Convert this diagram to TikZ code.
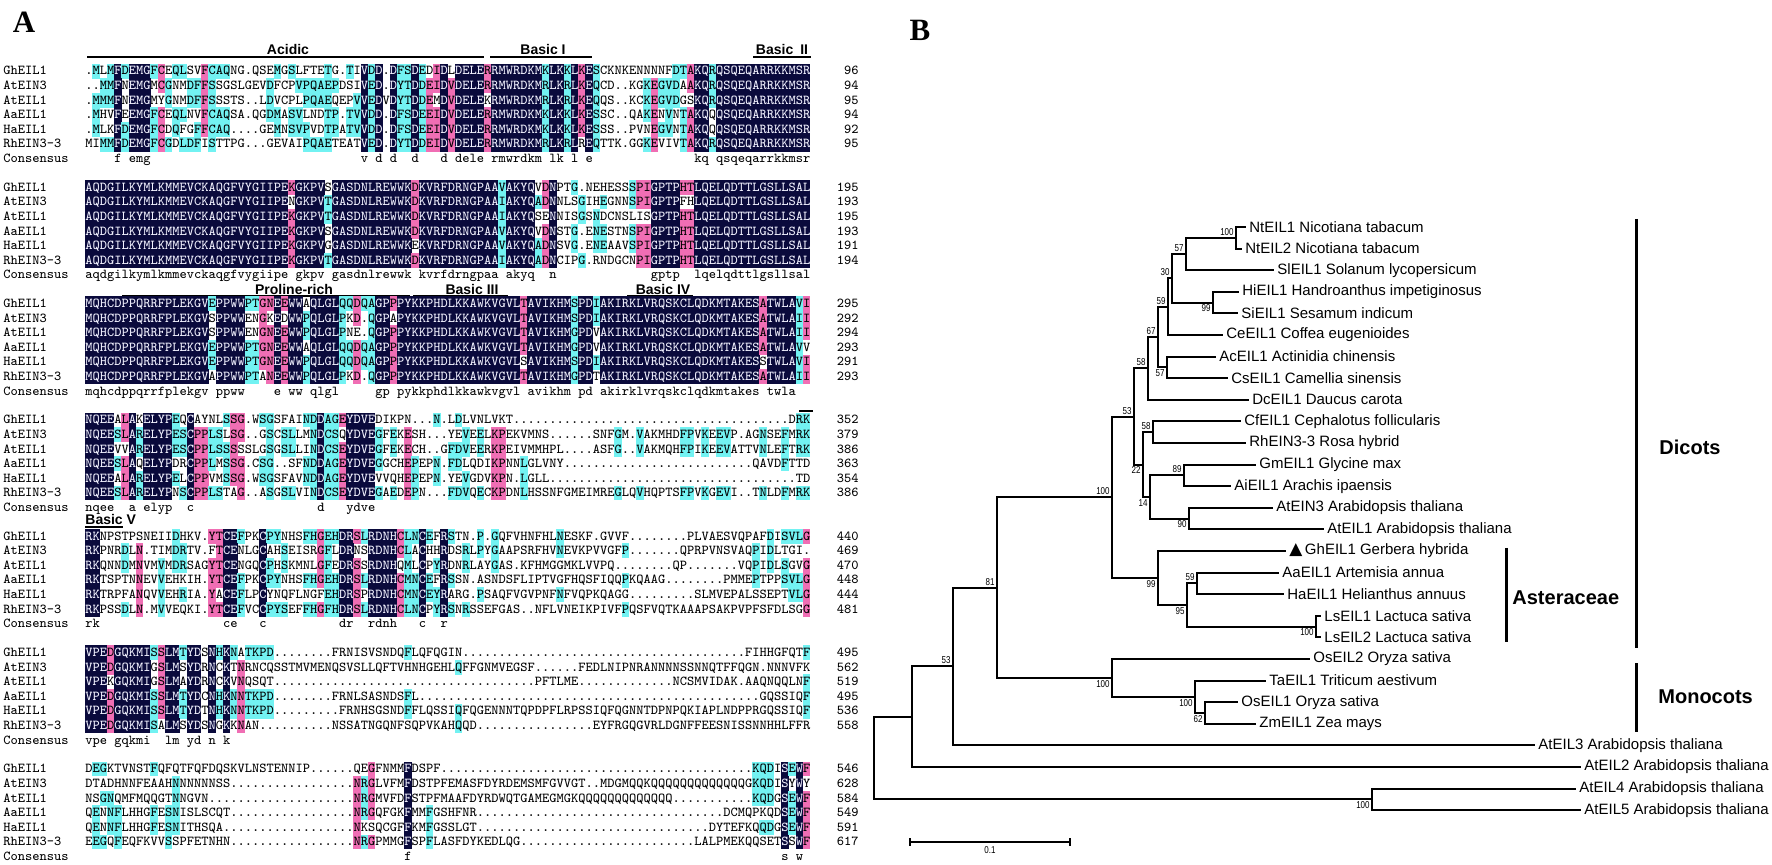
\documentclass[tikz,border=0pt]{standalone}
\usepackage{fontspec}
\setmainfont{Liberation Sans}
\newfontfamily\narrowfont{Liberation Sans}[FakeStretch=0.8]
\newfontfamily\serifbold{Liberation Serif}
\newfontfamily\symfont{DejaVu Sans}
\usetikzlibrary{calc}

\definecolor{alnnavy}{HTML}{0A0A3C}
\definecolor{alnpink}{HTML}{F06EB4}
\definecolor{alncyan}{HTML}{72F2F2}
\definecolor{alnlight}{HTML}{F2F2FF}

% size the typewriter face so that one residue is exactly one column wide
\newlength\alnw
\AtBeginDocument{%
  \settowidth\alnw{\ttfamily\fontsize{6.905}{7}\selectfont MMMMMMMMMM}%
  \pgfmathsetmacro\alnsize{6.905*36.25/\alnw}%
}

\tikzset{
  alnrow/.style={anchor=base west, inner sep=0pt, font=\ttfamily\fontsize{\alnsize}{7}\selectfont},
  alnnum/.style={anchor=base east, inner sep=0pt, font=\ttfamily\fontsize{\alnsize}{7}\selectfont},
  domlabel/.style={inner sep=0pt, font=\bfseries\fontsize{7}{8}\selectfont},
  dombar/.style={line width=0.75pt},
  branch/.style={line width=1pt, line cap=rect},
  tiplabel/.style={anchor=west, inner xsep=2pt, inner ysep=1pt, font=\fontsize{7.5}{9}\selectfont},
  bootup/.style={anchor=south east, inner sep=1pt, font=\narrowfont\fontsize{5}{5}\selectfont},
  bootdown/.style={anchor=north east, inner sep=1pt, font=\narrowfont\fontsize{5}{5}\selectfont},
  cladebar/.style={line width=1.5pt},
  cladename/.style={anchor=west, inner sep=0pt, font=\bfseries\fontsize{10}{12}\selectfont},
  panel/.style={inner sep=0pt, font=\serifbold\bfseries\fontsize{15.5}{18}\selectfont}
}

% one clade of the tree: name, x, upper child, lower child, bootstrap, label side
\newcommand\treenode[6]{%
  \path ($(#3)!.5!(#4)$) coordinate (#1-mid);
  \coordinate (#1) at (#2,0 |- #1-mid);
  \draw[branch] (#3) -| (#1) |- (#4);
  \node[#6] (#1-bs) at (#1) {#5};
}

% alignment blocks: digits in a row stand for that many gap dots
\ExplSyntaxOn
\cs_generate_variant:Nn \str_item:Nn { cn }
\cs_generate_variant:Nn \str_count:N { c }
\int_new:N \l_aln_cnt_int
\tl_new:N \l_aln_out_tl
\tl_new:N \l_aln_num_tl
\tl_new:N \l_aln_text_tl
\tl_new:N \l_aln_cons_tl
\str_new:N \l_aln_c_str
\fp_new:N \l_aln_y_fp
\int_step_inline:nn {6} { \str_new:c { l_aln_row_#1_str } }

\cs_new_protected:Npn \aln_flush:
  {
    \tl_if_empty:NF \l_aln_num_tl
      {
        \tl_put_right:Nx \l_aln_out_tl { \prg_replicate:nn { \l_aln_num_tl } { . } }
        \tl_clear:N \l_aln_num_tl
      }
  }
\cs_new_protected:Npn \aln_expand:Nn #1 #2
  {
    \tl_clear:N \l_aln_out_tl
    \tl_clear:N \l_aln_num_tl
    \str_map_inline:nn {#2}
      {
        \tl_if_in:nnTF { 0123456789 } {##1}
          { \tl_put_right:Nn \l_aln_num_tl {##1} }
          { \aln_flush: \tl_put_right:Nn \l_aln_out_tl {##1} }
      }
    \aln_flush:
    \str_set:NV #1 \l_aln_out_tl
  }
\cs_generate_variant:Nn \aln_expand:Nn { cn }

\cs_new_protected:Npn \aln_count:nn #1 #2
  {
    \int_zero:N \l_aln_cnt_int
    \int_step_inline:nn {6}
      {
        \str_if_eq:eeT { \str_item:cn { l_aln_row_##1_str } {#1} } {#2}
          { \int_incr:N \l_aln_cnt_int }
      }
  }
\cs_generate_variant:Nn \aln_count:nn { nV }

\cs_new_protected:Npn \aln_fill:nn #1 #2
  {
    \use:e
      {
        \exp_not:N \fill [#1]
          ( \fp_eval:n { 85 + (#2 - 1) * 7.25 } , \fp_eval:n { \l_aln_y_fp - 7.3 } )
          ~rectangle~
          ( \fp_eval:n { 85 + #2 * 7.25 + 0.3 } , \fp_eval:n { \l_aln_y_fp + 7.6 } ) ;
      }
  }

\cs_new_protected:Npn \aln_cell:nn #1 #2
  {
    \str_set:Nx \l_aln_c_str { \str_item:cn { l_aln_row_#1_str } {#2} }
    \str_if_eq:VnTF \l_aln_c_str { . }
      { \tl_put_right:Nn \l_aln_text_tl { . } }
      {
        \aln_count:nV {#2} \l_aln_c_str
        \int_compare:nNnTF \l_aln_cnt_int = 6
          {
            \aln_fill:nn { alnnavy } {#2}
            \tl_put_right:Nx \l_aln_text_tl { \exp_not:N \textcolor {alnlight} { \l_aln_c_str } }
          }
          {
            \int_compare:nNnTF \l_aln_cnt_int = 5
              { \aln_fill:nn { alnpink } {#2} }
              { \int_compare:nNnT \l_aln_cnt_int > 2 { \aln_fill:nn { alncyan } {#2} } }
            \tl_put_right:NV \l_aln_text_tl \l_aln_c_str
          }
      }
  }

\cs_new_protected:Npn \aln_row:nnn #1 #2 #3
  {
    \tl_clear:N \l_aln_text_tl
    \fp_set:Nn \l_aln_y_fp { #3 + (#2 - 1) * 14.6 }
    \int_step_inline:nn { \str_count:c { l_aln_row_#2_str } }
      { \aln_cell:nn {#2} {##1} }
    \use:e
      {
        \exp_not:N \node [alnrow] (aln-#1-#2) ~at~
          (85, \fp_eval:n { \l_aln_y_fp + 4 }) { \exp_not:V \l_aln_text_tl } ;
      }
  }

\cs_new_protected:Npn \aln_consensus:nn #1 #2
  {
    \tl_clear:N \l_aln_cons_tl
    \int_step_inline:nn { \str_count:c { l_aln_row_1_str } }
      {
        \str_set:Nx \l_aln_c_str { \str_item:cn { l_aln_row_1_str } {##1} }
        \int_zero:N \l_aln_cnt_int
        \str_if_eq:VnF \l_aln_c_str { . } { \aln_count:nV {##1} \l_aln_c_str }
        \int_compare:nNnTF \l_aln_cnt_int = 6
          {
            \use:e
              {
                \tex_lowercase:D
                  { \exp_not:N \tl_put_right:Nn \exp_not:N \l_aln_cons_tl { \l_aln_c_str } }
              }
          }
          { \tl_put_right:Nn \l_aln_cons_tl { \hphantom{x} } }
      }
    \use:e
      {
        \exp_not:N \node [alnrow] (aln-#1-cons) ~at~
          (85, \fp_eval:n { #2 + 6 * 14.6 + 4 }) { \exp_not:V \l_aln_cons_tl } ;
      }
  }

\cs_new_protected:Npn \aln_block:nnnnnnnn #1 #2 #3 #4 #5 #6 #7 #8
  {
    \aln_expand:cn { l_aln_row_1_str } {#3}
    \aln_expand:cn { l_aln_row_2_str } {#4}
    \aln_expand:cn { l_aln_row_3_str } {#5}
    \aln_expand:cn { l_aln_row_4_str } {#6}
    \aln_expand:cn { l_aln_row_5_str } {#7}
    \aln_expand:cn { l_aln_row_6_str } {#8}
    \int_step_inline:nn {6} { \aln_row:nnn {#1} {##1} {#2} }
    \aln_consensus:nn {#1} {#2}
  }
\cs_new_eq:NN \alnblock \aln_block:nnnnnnnn
\ExplSyntaxOff

\begin{document}
\begin{tikzpicture}[x=0.5pt, y=-0.5pt]
  \useasboundingbox (0,0) rectangle (1772,865);
  \fill[white] (0,0) rectangle (1772,865);

  % panel letters
  \node[panel] (panelA) at (24,22) {A};
  \node[panel] (panelB) at (920,30) {B};

  % ---------------- A: alignment ----------------
  \node[domlabel] (acidic) at (288,50) {Acidic};
  \draw[dombar] (87,57) -- (484,57);
  \node[domlabel] (basic1) at (543,50) {Basic I};
  \draw[dombar] (490,57) -- (592,57);
  \node[domlabel] (basic2) at (782,50) {Basic\enspace II};
  \draw[dombar] (753,57) -- (811,57);

  \alnblock{1}{71}
    {.MLMFDEMGFCEQLSVFCAQNG.QSEMGSLFTETG.TIVDD.DFSDEDIDLDELERRMWRDKMKLKKLKESCKNKENNNNFDTAKQRQSQEQARRKKMSR}
    {..MMFNEMGMCGNMDFFSSGSLGEVDFCPVPQAEPDSIVED.DYTDDEIDVDELERRMWRDKMRLKRLKEQCD..KGKEGVDAAKQRQSQEQARRKKMSR}
    {.MMMFNEMGMYGNMDFFSSSTS..LDVCPLPQAEQEPVVEDVDYTDDEMDVDELEKRMWRDKMRLKRLKEQQS..KCKEGVDGSKQRQSQEQARRKKMSR}
    {.MHVFEEMGFCEQLNVFCAQSA.QGDMASVLNDTP.TVVDD.DFSDEEIDVDELERRMWRDKMKLKKLKESSC..QAKENVNTAKQQQSQEQARRKKMSR}
    {.MLKFDEMGFCDQFGFFCAQ....GEMNSVPVDTPATVVDD.DFSDEEIDVDELERRMWRDKMKLKKLKESSS..PVNEGVNTAKQQQSQEQARRKKMSR}
    {MIMMFDEMGFCGDLDFISTTPG...GEVAIPQAETEATVED.DYTDDEIDVDELERRMWRDKMRLKRLREQTTK.GGKEVIVTAKQRQSQEQARRKKMSR}

  \alnblock{2}{187.3}
    {AQDGILKYMLKMMEVCKAQGFVYGIIPEKGKPVSGASDNLREWWKDKVRFDRNGPAAVAKYQVDNPTG.NEHESSSPIGPTPHTLQELQDTTLGSLLSAL}
    {AQDGILKYMLKMMEVCKAQGFVYGIIPENGKPVTGASDNLREWWKDKVRFDRNGPAAIAKYQADNNLSGIHEGNNSPIGPTPFHLQELQDTTLGSLLSAL}
    {AQDGILKYMLKMMEVCKAQGFVYGIIPEKGKPVTGASDNLREWWKDKVRFDRNGPAAIAKYQSENNISGSNDCNSLISGPTPHTLQELQDTTLGSLLSAL}
    {AQDGILKYMLKMMEVCKAQGFVYGIIPEKGKPVSGASDNLREWWKDKVRFDRNGPAAVAKYQVDNSTG.ENESTNSPIGPTPHTLQELQDTTLGSLLSAL}
    {AQDGILKYMLKMMEVCKAQGFVYGIIPEKGKPVGGASDNLREWWKEKVRFDRNGPAAVAKYQADNSVG.ENEAAVSPIGPTPHTLQELQDTTLGSLLSAL}
    {AQDGILKYMLKMMEVCKAQGFVYGIIPEKGKPVTGASDNLREWWKDKVRFDRNGPAAIAKYQADNCIPG.RNDGCNPIGPTPHTLQELQDTTLGSLLSAL}

  \node[domlabel] (prorich) at (294,289) {Proline-rich};
  \draw[dombar] (122,296) -- (410,296);
  \node[domlabel] (basic3) at (472,289) {Basic III};
  \draw[dombar] (413,296) -- (508,296);
  \node[domlabel] (basic4) at (663,289) {Basic IV};
  \draw[dombar] (627,296) -- (693,296);

  \alnblock{3}{303.6}
    {MQHCDPPQRRFPLEKGVEPPWWPTGNEEWWAQLGLQQDQAGPPPYKKPHDLKKAWKVGVLTAVIKHMSPDIAKIRKLVRQSKCLQDKMTAKESATWLAVI}
    {MQHCDPPQRRFPLEKGVSPPWWENGKEDWWPQLGLPKD.QGPAPYKKPHDLKKAWKVGVLTAVIKHMSPDIAKIRKLVRQSKCLQDKMTAKESATWLAII}
    {MQHCDPPQRRFPLEKGVSPPWWENGNEEWWPQLGLPNE.QGPPPYKKPHDLKKAWKVGVLTAVIKHMGPDVAKIRKLVRQSKCLQDKMTAKESATWLAII}
    {MQHCDPPQRRFPLEKGVEPPWWPTGNEEWWAQLGLQQDQAGPPPYKKPHDLKKAWKVGVLTAVIKHMGPDVAKIRKLVRQSKCLQDKMTAKESATWLAVV}
    {MQHCDPPQRRFPLEKGVEPPWWPTGNEEWWPQLGLQQDQAGPPPYKKPHDLKKAWKVGVLSAVIKHMSPDIAKIRKLVRQSKCLQDKMTAKESSTWLAVI}
    {MQHCDPPQRRFPLEKGVAPPWWPTANEEWWPQLGLPKD.QGPPPYKKPHDLKKAWKVGVLTAVIKHMGPDTAKIRKLVRQSKCLQDKMTAKESATWLAII}

  \draw[dombar] (799,411) -- (813,411);

  \alnblock{4}{419.9}
    {NQEEALAKELYPEQCAYNLSSG.WSGSFAINDDAGEYDVEDIKPN...N.LDLVNLVKT38DRK}
    {NQEESLARELYPESCPPLSLSG..GSCSLLMNDCSQYDVEGFEKESH...YEVEELKPEKVMNS......SNFGM.VAKMHDFPVKEEVP.AGNSEFMRK}
    {NQEEVVARELYPESCPPLSSSSSLGSGSLLINDCSEYDVEGFEKECH..GFDVEERKPEIVMMHPL....ASFG..VAKMQHFPIKEEVATTVNLEFTRK}
    {NQEESLAQELYPDRCPPLMSSG.CSG..SFNDDAGEYDVEGGCHEPEPN.FDLQDIKPNNLGLVNY26QAVDFTTD}
    {NQEEALARELYPELCPPVMSSG.WSGSFAVNDDAGEYDVEVVQHEPEPN.YEVGDVKPN.LGLL34TD}
    {NQEESLARELYPNSCPPLSTAG..ASGSLVINDCSEYDVEGAEDEPN...FDVQECKPDNLHSSNFGMEIMREGLQVHQPTSFPVKGEVI..TNLDFMRK}

  \node[domlabel, anchor=west] (basic5) at (85,519) {Basic V};
  \draw[dombar] (85,527) -- (123,527);

  \alnblock{5}{536.2}
    {RKNPSTPSNEIIDHKV.YTCEFPKCPYNHSFHGEHDRSLRDNHCLNCEFRSTN.P.GQFVHNFHLNESKF.GVVF8PLVAESVQPAFDISVLG}
    {RKPNRDLN.TIMDRTV.FTCENLGCAHSEISRGFLDRNSRDNHCLACHHRDSRLPYGAAPSRFHVNEVKPVVGFP7QPRPVNSVAQPIDLTGI.}
    {RKQNNDMNVMVMDRSAGYTCENGQCPHSKMNLGFEDRSSRDNHQMLCPYRDNRLAYGAS.KFHMGGMKLVVPQ8QP7VQPIDLSGVG}
    {RKTSPTNNEVVEHKIH.YTCEFPKCPYNHSFHGEHDRSLRDNHCMNCEFRSSN.ASNDSFLIPTVGFHQSFIQQPKQAAG8PMMEPTPPSVLG}
    {RKTRPFANQVVEHRIA.YACEFLPCYNQFLNGFEHDRSPRDNHCMNCEYRARG.PSAQFVGVPNFNFVQPKQAGG9SLMVEPALSSEPTVLG}
    {RKPSSDLN.MVVEQKI.YTCEFVCCPYSEFFHGFHDRSLRDNHCLNCPYRSNRSSEFGAS..NFLVNEIKPIVFPQSFVQTKAAAPSAKPVPFSFDLSGG}

  \alnblock{6}{652.5}
    {VPEDGQKMISSLMTYDSNHKNATKPD8FRNISVSNDQFLQFQGIN39FIHHGFQTF}
    {VPEDGQKMIGSLMSYDRNCKTNRNCQSSTMVMENQSVSLLQFTVHNHGEHLQFFGNMVEGSF6FEDLNIPNRANNNNSSNNQTFFQGN.NNNVFK}
    {VPEKGQKMIGSLMAYDRNCKVNQSQT36PFTLME13NCSMVIDAK.AAQNQQLNF}
    {VPEDGQKMISSLMTYDCNHKNNTKPD8FRNLSASNDSFL47GQSSIQF}
    {VPEDGQKMISSLMTYDTNHKNNTKPD9FRNHSGSNDFFLQSSIQFQGENNNTQPDPFLRPSSIQFQGNNTDPNPQKIAPLNDPPRGQSSIQF}
    {VPEDGQKMISALMSYDSNGKKNAN10NSSATNGQNFSQPVKAHQQD16EYFRGQGVRLDGNFFEESNISSNNHHLFFR}

  \alnblock{7}{768.8}
    {DEGKTVNSTFQFQTFQFDQSKVLNSTENNIP6QEGFNMMFDSPF43KQDISEWF}
    {DTADHNNFEAAHNNNNNNSS17NRGLVFMFDSTPFEMASFDYRDEMSMFGVVGT..MDGMQQKQQQQQQQQQQQQQGKQDISYWY}
    {NSGNQMFMQQGTNNGVN20NRGMVFDFSTPFMAAFDYRDWQTGAMEGMGKQQQQQQQQQQQQQ11KQDGSEWF}
    {QENNFLHHGFESNISLSCQT17NRGQFGKFMMFGSHFNR34DCMQPKQDSEWF}
    {QENNFLHHGFESNITHSQA18NKSQCGFFKMFGSSLGT32DYTEFKQQDGSEWF}
    {EEGQFEQFKVVSSPFETNHN17NRGPMMGFSPFLASFDYKEDLQG24LALPMEKQQSETSSWF}

  % sequence names and residue numbers
  \foreach \b in {1,...,7}
    \foreach \nm [count=\r] in {GhEIL1,AtEIN3,AtEIL1,AaEIL1,HaEIL1,RhEIN3-3,Consensus}
      \node[alnrow] (name-\b-\r) at (3, {71+116.3*(\b-1)+14.6*(\r-1)+4}) {\nm};
  \foreach \b/\nums in {1/{96,94,95,94,92,95}, 2/{195,193,195,193,191,194},
      3/{295,292,294,293,291,293}, 4/{352,379,386,363,354,386},
      5/{440,469,470,448,444,481}, 6/{495,562,519,495,536,558},
      7/{546,628,584,549,591,617}}
    \foreach \n [count=\r] in \nums
      \node[alnnum] (num-\b-\r) at (859, {71+116.3*(\b-1)+14.6*(\r-1)+4}) {\n};

  % ---------------- B: tree ----------------
  \foreach \tn/\tx/\tt [count=\i] in {
      NtEIL1/1245/{NtEIL1 Nicotiana tabacum},
      NtEIL2/1241/{NtEIL2 Nicotiana tabacum},
      SlEIL1/1273/{SlEIL1 Solanum lycopersicum},
      HiEIL1/1238/{HiEIL1 Handroanthus impetiginosus},
      SiEIL1/1237/{SiEIL1 Sesamum indicum},
      CeEIL1/1222/{CeEIL1 Coffea eugenioides},
      AcEIL1/1215/{AcEIL1 Actinidia chinensis},
      CsEIL1/1227/{CsEIL1 Camellia sinensis},
      DcEIL1/1248/{DcEIL1 Daucus carota},
      CfEIL1/1240/{CfEIL1 Cephalotus follicularis},
      RhEIN3-3/1245/{RhEIN3-3 Rosa hybrid},
      GmEIL1/1255/{GmEIL1 Glycine max},
      AiEIL1/1230/{AiEIL1 Arachis ipaensis},
      AtEIN3/1272/{AtEIN3 Arabidopsis thaliana},
      AtEIL1/1323/{AtEIL1 Arabidopsis thaliana},
      GhEIL1/1285/{{\symfont\fontsize{8.5}{9}\selectfont ▲}\,GhEIL1 Gerbera hybrida},
      AaEIL1/1278/{AaEIL1 Artemisia annua},
      HaEIL1/1283/{HaEIL1 Helianthus annuus},
      LsEIL1/1320/{LsEIL1 Lactuca sativa},
      LsEIL2/1320/{LsEIL2 Lactuca sativa},
      OsEIL2/1309/{OsEIL2 Oryza sativa},
      TaEIL1/1265/{TaEIL1 Triticum aestivum},
      OsEIL1/1237/{OsEIL1 Oryza sativa},
      ZmEIL1/1255/{ZmEIL1 Zea mays},
      AtEIL3/1534/{AtEIL3 Arabidopsis thaliana},
      AtEIL2/1580/{AtEIL2 Arabidopsis thaliana},
      AtEIL4/1575/{AtEIL4 Arabidopsis thaliana},
      AtEIL5/1580/{AtEIL5 Arabidopsis thaliana}}
    \node[tiplabel] (\tn) at (\tx, {227+21.6*(\i-1)}) {\tt};

  \treenode{nNt}{1236}{NtEIL1}{NtEIL2}{100}{bootup}
  \treenode{nK}{1186}{nNt}{SlEIL1}{57}{bootup}
  \treenode{nHS}{1213}{HiEIL1}{SiEIL1}{99}{bootdown}
  \treenode{nJ}{1172}{nK}{nHS}{30}{bootup}
  \treenode{nI}{1168}{nJ}{CeEIL1}{59}{bootup}
  \treenode{nAC}{1167}{AcEIL1}{CsEIL1}{57}{bootdown}
  \treenode{nH}{1158}{nI}{nAC}{67}{bootup}
  \treenode{nF}{1148}{nH}{DcEIL1}{58}{bootup}
  \treenode{nCR}{1153}{CfEIL1}{RhEIN3-3}{58}{bootup}
  \treenode{nGA}{1184}{GmEIL1}{AiEIL1}{89}{bootup}
  \treenode{nAA}{1189}{AtEIN3}{AtEIL1}{90}{bootdown}
  \treenode{nL}{1150}{nGA}{nAA}{14}{bootdown}
  \treenode{nG}{1143}{nCR}{nL}{22}{bootdown}
  \treenode{nE}{1134}{nF}{nG}{53}{bootup}
  \treenode{nAH}{1197}{AaEIL1}{HaEIL1}{59}{bootup}
  \treenode{nLs}{1316}{LsEIL1}{LsEIL2}{100}{bootdown}
  \treenode{nN}{1187}{nAH}{nLs}{95}{bootdown}
  \treenode{nAst}{1158}{GhEIL1}{nN}{99}{bootdown}
  \treenode{nD}{1112}{nE}{nAst}{100}{bootup}
  \treenode{nOZ}{1205}{OsEIL1}{ZmEIL1}{62}{bootdown}
  \treenode{nT}{1195}{TaEIL1}{nOZ}{100}{bootdown}
  \treenode{nM}{1112}{OsEIL2}{nT}{100}{bootdown}
  \treenode{nC}{997}{nD}{nM}{81}{bootup}
  \treenode{nB}{953}{nC}{AtEIL3}{53}{bootup}
  \treenode{nAt45}{1372}{AtEIL4}{AtEIL5}{100}{bootdown}
  % the two deepest splits carry no value
  \path ($(nB)!.5!(AtEIL2)$) coordinate (nA-mid);
  \coordinate (nA) at (912,0 |- nA-mid);
  \draw[branch] (nB) -| (nA) |- (AtEIL2);
  \path ($(nA)!.5!(nAt45)$) coordinate (nR-mid);
  \coordinate (nR) at (874,0 |- nR-mid);
  \draw[branch] (nA) -| (nR) |- (nAt45);

  % groups
  \draw[cladebar] (1636,219) -- (1636,648);
  \node[cladename] (dicots) at (1659,447) {Dicots};
  \draw[cladebar] (1506,548) -- (1506,642);
  \node[cladename] (asteraceae) at (1512,598) {Asteraceae};
  \draw[cladebar] (1636,663) -- (1636,732);
  \node[cladename] (monocots) at (1658,697) {Monocots};

  % scale bar
  \coordinate (sbL) at (910,842);
  \coordinate (sbR) at (1070,842);
  \draw[line width=0.8pt] ($(sbL)+(0,-4)$) -- ($(sbL)+(0,4)$) (sbL) -- (sbR)
    ($(sbR)+(0,-4)$) -- ($(sbR)+(0,4)$);
  \node[bootdown, anchor=north] (sbtext) at ($(sbL)!.5!(sbR)+(0,2)$) {0.1};
\end{tikzpicture}
\end{document}
